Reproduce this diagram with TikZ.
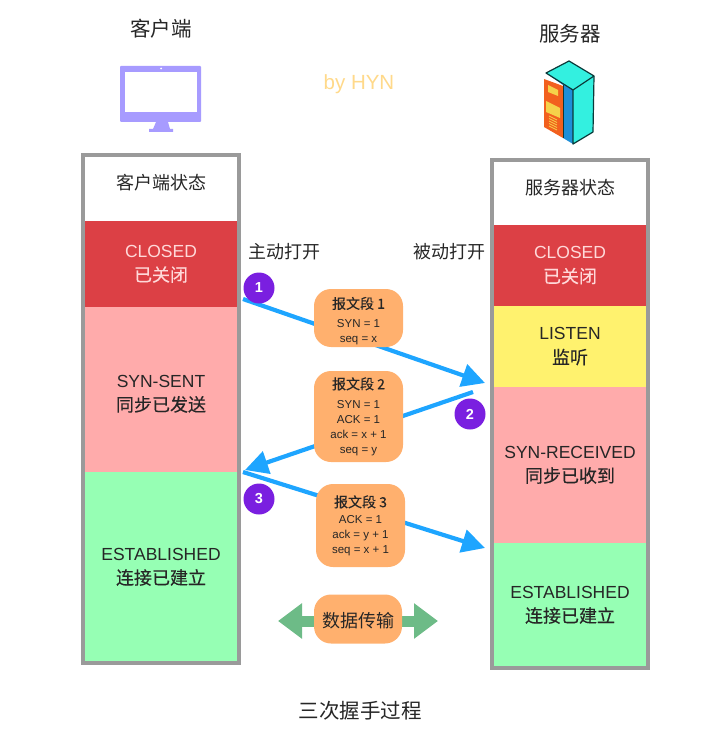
\documentclass[tikz,border=0pt]{standalone}
\usepackage{fontspec}
\setmainfont{Liberation Sans}
\newfontfamily\cjk{Noto Sans CJK SC}
\newfontfamily\cjkm[FakeBold=0.2]{Noto Sans CJK SC}
\usetikzlibrary{arrows.meta,positioning}
\definecolor{panelgray}{HTML}{9A9A9A}
\definecolor{closedred}{HTML}{DC4045}
\definecolor{synpink}{HTML}{FFABAB}
\definecolor{estgreen}{HTML}{96FFB4}
\definecolor{listenyellow}{HTML}{FFF26E}
\definecolor{msgorange}{HTML}{FFB06E}
\definecolor{arrowblue}{HTML}{1EA5FF}
\definecolor{stepviolet}{HTML}{7A1FE0}
\definecolor{datagreen}{HTML}{6DBB87}
\definecolor{monitor}{HTML}{A79BFF}
\definecolor{hyn}{HTML}{FFD98A}
\definecolor{cyanface}{HTML}{33F0E0}
\definecolor{rackedge}{HTML}{0B3A3A}
\definecolor{rackorange}{HTML}{F2601E}
\definecolor{rackyellow}{HTML}{F5D24A}
\definecolor{rackblue}{HTML}{1E8FD8}
\newcommand{\zh}[1]{{\cjkm\fontsize{18}{24}\selectfont #1}}
\newcommand{\ttl}[1]{{\cjkm\fontsize{14}{16}\selectfont #1}}
\tikzset{x=1pt,y=-1pt,
  state/.style={minimum width=152pt,inner sep=0pt,outer sep=0pt,align=center,font=\fontsize{17.5}{24}\selectfont},
  paneltitle/.style={state,font=\cjk\fontsize{18}{18}\selectfont,text=black!85},
  panel/.style={draw=panelgray,line width=4pt},
  msgbox/.style={fill=msgorange,rounded corners=17pt,inner sep=0pt,align=center,text=black!85,font=\fontsize{11.5}{15}\selectfont},
  msgarrow/.style={draw=arrowblue,line width=4.2pt,-{Triangle[length=23pt,width=23pt]}},
  stepdot/.style={circle,fill=stepviolet,text=white,minimum size=31pt,inner sep=0pt,font=\bfseries\fontsize{14.5}{14.5}\selectfont},
  heading/.style={font=\cjk\fontsize{20.5}{20.5}\selectfont,text=black!85,inner sep=0pt},
  sidelabel/.style={font=\cjk\fontsize{18}{18}\selectfont,text=black!85,inner sep=0pt},
  dataarrow/.style={draw=datagreen,line width=11pt,{Triangle[length=24pt,width=34pt]}-{Triangle[length=24pt,width=34pt]}}
}
\begin{document}
\begin{tikzpicture}
\useasboundingbox (0,0) rectangle (708,743);
% headings
\node[heading] (clienthead) at (161,29) {客户端};
\node[heading] (serverhead) at (570,34) {服务器};
\node[font=\fontsize{20.5}{20.5}\selectfont,text=hyn,inner sep=0pt] (by) at (359,84) {by HYN};
% monitor icon
\fill[monitor,rounded corners=1pt] (120,66) rectangle (201,122);
\fill[white] (125,72) rectangle (197,112);
\fill[white] (161,68.5) circle (1pt);
\fill[monitor] (156,122) -- (168,122) -- (170,129) -- (173,129) -- (173,132) -- (149,132) -- (149,129) -- (153,129) -- cycle;
% server icon
\fill[rackblue] (546,73) -- (573,90) -- (573,144) -- (563,138) -- (563,85) -- cycle;
\fill[rackorange] (544,79) -- (563,86) -- (563,138) -- (544,127) -- cycle;
\fill[rackyellow] (548,85) -- (558,90) -- (558,96) -- (548,92) -- cycle;
\fill[rackyellow] (546,101) -- (560,108) -- (560,118) -- (546,112) -- cycle;
\foreach \k in {0,2.5,5,7.5,10}{\draw[rackyellow,line width=0.7pt] (549,{116+\k}) -- (557,{120+\k});}
\draw[rackedge,line width=0.7pt] (563,85) -- (563,138);
\draw[draw=rackedge,fill=cyanface,line width=1.2pt,line join=round] (573,90) -- (546,73) -- (569,61) -- (594,76) -- (593,132) -- (573,144) -- cycle;
\draw[rackedge,line width=1.2pt] (573,90) -- (594,76);
% left panel
\node[paneltitle,minimum height=66pt,anchor=north west] (lhead) at (85,155) {\rule[-13pt]{0pt}{13pt}客户端状态};
\node[state,minimum height=86pt,fill=closedred,text=white!85!red,anchor=north] (lclosed) at (lhead.south) {CLOSED\\\zh{已关闭}};
\node[state,minimum height=165pt,fill=synpink,text=black!85,anchor=north] (lsyn) at (lclosed.south) {\rule{0pt}{21pt}SYN-SENT\\\zh{同步已发送}};
\node[state,minimum height=190pt,fill=estgreen,text=black!85,anchor=north] (lest) at (lsyn.south) {ESTABLISHED\\\zh{连接已建立}};
\draw[panel] (83,155) rectangle (239,663);
% right panel
\node[paneltitle,minimum height=65pt,anchor=north west] (rhead) at (494,160) {\rule[-11pt]{0pt}{11pt}服务器状态};
\node[state,minimum height=81pt,fill=closedred,text=white!85!red,anchor=north] (rclosed) at (rhead.south) {CLOSED\\\zh{已关闭}};
\node[state,minimum height=81pt,fill=listenyellow,text=black!85,anchor=north] (rlisten) at (rclosed.south) {LISTEN\\\zh{监听}};
\node[state,minimum height=156pt,fill=synpink,text=black!85,anchor=north] (rsyn) at (rlisten.south) {SYN-RECEIVED\\\zh{同步已收到}};
\node[state,minimum height=124pt,fill=estgreen,text=black!85,anchor=north] (rest) at (rsyn.south) {ESTABLISHED\\\zh{连接已建立}};
\draw[panel] (492,160) rectangle (648,668);
% side labels
\node[sidelabel] (activeopen) at (284,252) {主动打开};
\node[sidelabel] (passiveopen) at (449,252) {被动打开};
% arrows
\coordinate (a1s) at (243,299);
\coordinate (a1e) at (485,383);
\coordinate (a2s) at (473,392);
\coordinate (a2e) at (245,470);
\coordinate (a3s) at (243,472);
\coordinate (a3e) at (485,548);
\draw[msgarrow] (a1s) -- (a1e);
\draw[msgarrow] (a2s) -- (a2e);
\draw[msgarrow] (a3s) -- (a3e);
% step dots
\node[stepdot] (s1) at (259,288) {1};
\node[stepdot] (s2) at (470,414) {2};
\node[stepdot] (s3) at (259,499) {3};
% message boxes
\node[msgbox,minimum width=89pt,minimum height=58pt] (m1) at (358.5,318) {\rule{0pt}{18pt}\ttl{报文段 1}\\[4pt]SYN = 1\\seq = x};
\node[msgbox,minimum width=89pt,minimum height=91pt] (m2) at (358.5,416.5) {\ttl{报文段 2}\\[4pt]SYN = 1\\ACK = 1\\ack = x + 1\\seq = y};
\node[msgbox,minimum width=89pt,minimum height=83pt] (m3) at (360.5,525.5) {\ttl{报文段 3}\\[1pt]ACK = 1\\ack = y + 1\\seq = x + 1};
% data transfer
\coordinate (dl) at (278,621);
\coordinate (dr) at (438,621);
\draw[dataarrow] (dl) -- (dr);
\node[msgbox,minimum width=88pt,minimum height=49pt,font=\cjk\fontsize{18}{18}\selectfont] (data) at (358,619) {\rule{0pt}{19pt}数据传输};
% caption
\node[heading] (caption) at (360,711) {三次握手过程};
\end{tikzpicture}
\end{document}
